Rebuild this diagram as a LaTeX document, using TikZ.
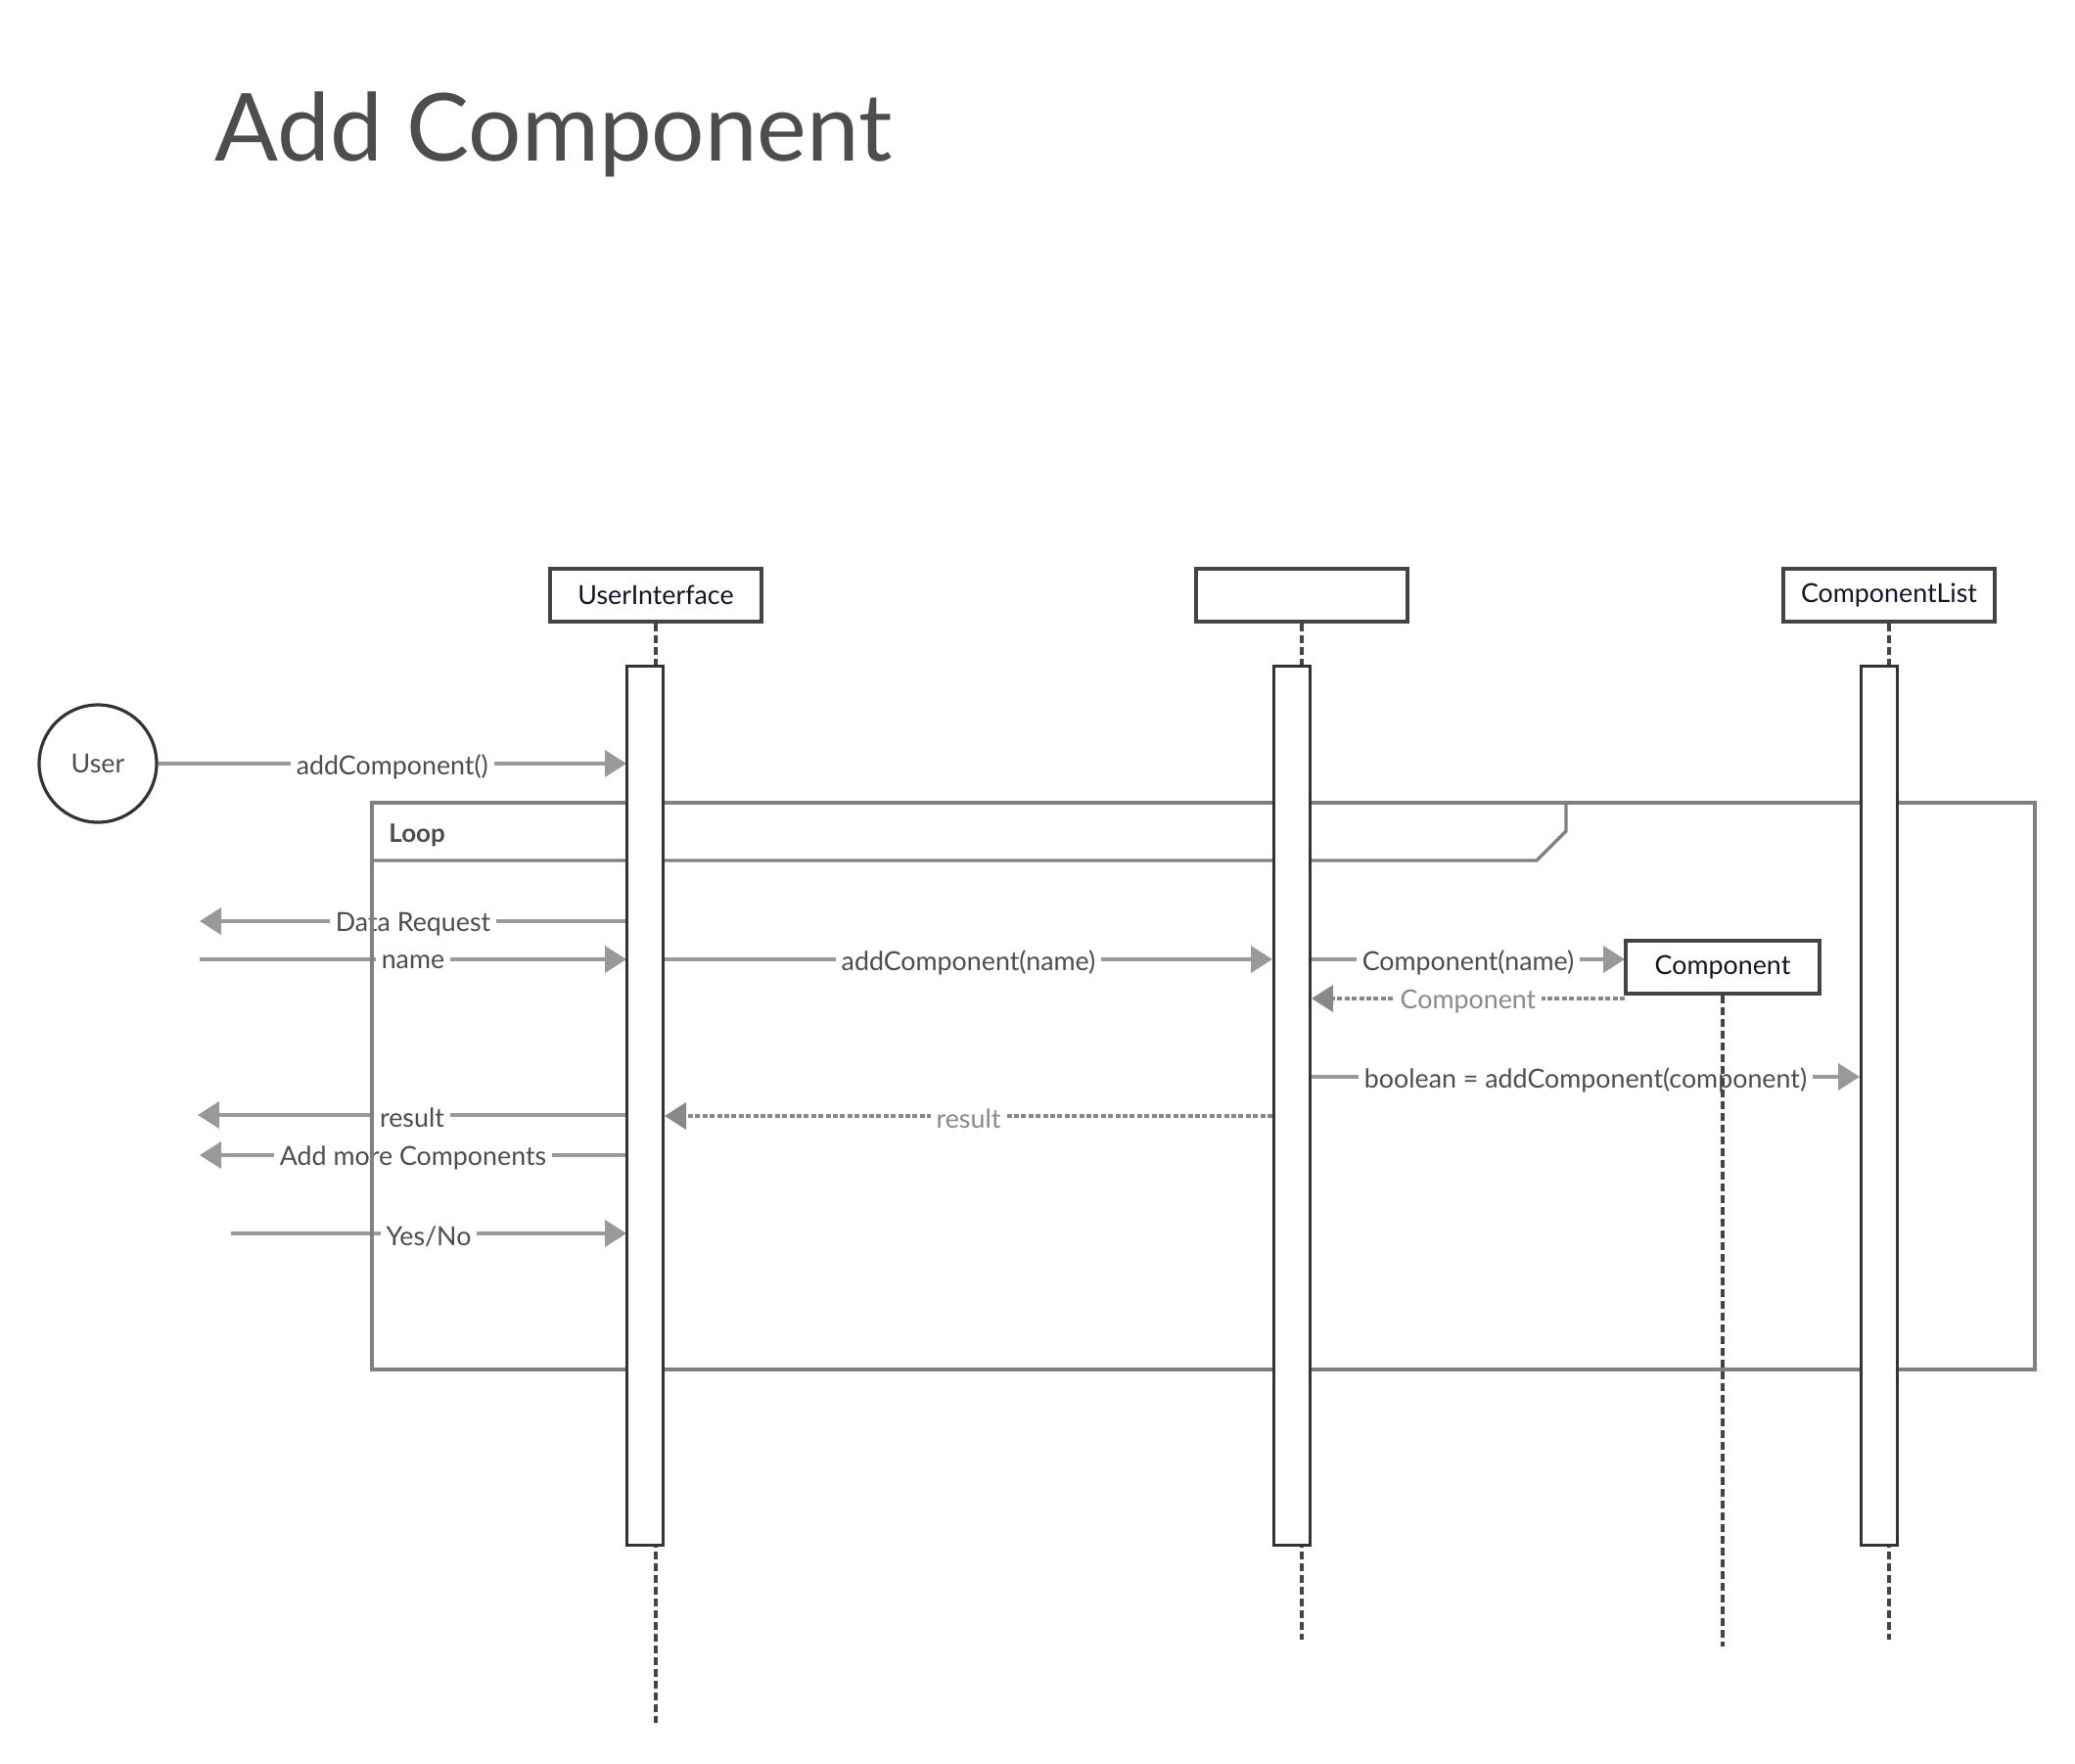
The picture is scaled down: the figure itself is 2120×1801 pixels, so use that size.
\documentclass[tikz,border=0pt]{standalone}
\usepackage{fontspec}
\setmainfont{Lato}
\usetikzlibrary{arrows.meta,positioning,calc}
\definecolor{ink}{HTML}{4D4D4D}
\definecolor{headtext}{HTML}{15152A}
\definecolor{boxline}{HTML}{444444}
\definecolor{actline}{HTML}{333333}
\definecolor{msggray}{HTML}{999999}
\definecolor{replygray}{HTML}{888888}
\definecolor{replytext}{HTML}{8A8A8A}
\definecolor{framegray}{HTML}{808080}

\begin{document}
\begin{tikzpicture}[
  x=0.5pt, y=-0.5pt,
  >={Triangle[length=11pt,width=13.5pt]},
  head/.style={rectangle, draw=boxline, line width=1.8pt, fill=white, minimum width=108pt, minimum height=27pt, inner sep=0pt, text=headtext, font=\fontsize{13.4}{15}\selectfont},
  act/.style={rectangle, draw=actline, line width=1.6pt, fill=white, minimum width=18.5pt, minimum height=449pt, inner sep=0pt, anchor=north},
  actor/.style={circle, draw=actline, line width=1.6pt, fill=white, minimum size=60pt, inner sep=0pt, text=ink, font=\fontsize{13.4}{15}\selectfont},
  life/.style={draw=boxline, line width=1.7pt, dash pattern=on 4pt off 2pt},
  msg/.style={->, draw=msggray, fill=msggray, line width=1.9pt},
  reply/.style={->, draw=replygray, fill=replygray, line width=1.8pt, dash pattern=on 2.5pt off 1.2pt},
  lbl/.style={fill=white, inner sep=3pt, yshift=-1.5pt, text=ink, font=\fontsize{13.4}{15}\selectfont},
  rlbl/.style={lbl, text=replytext}
]

  % Page
  \useasboundingbox[fill=white] (0,0) rectangle (2120,1801);
  \node[anchor=base west, text=ink, inner sep=0pt, font=\fontsize{48}{58}\selectfont] (title) at (219,164) {Add Component};

  % Free ends of the user's messages
  \coordinate (dreq) at (204,941);
  \coordinate (nm) at (204,980);
  \coordinate (res) at (202,1139);
  \coordinate (more) at (204,1180);
  \coordinate (yn) at (236,1260);

  % Lifeline ends
  \coordinate (uiend) at (670,1760);
  \coordinate (ctlend) at (1330,1675);
  \coordinate (cpend) at (1760,1682);
  \coordinate (clend) at (1930,1675);

  % Heads
  \node[head] (ui) at (670,608) {UserInterface};
  \node[head] (ctl) at (1330,608) {};
  \node[head] (cl) at (1930,608) {ComponentList};
  \node[actor] (user) at (100,780) {User};

  % Activations (only placed here, drawn later)
  \path (659,679) coordinate (uiacttop) (1320,679) coordinate (ctlacttop) (1920,679) coordinate (clacttop);

  % Messages
  \draw[msg] (user) -- node[lbl] {addComponent()} (user -| 640,0);
  \draw[msg] (640,941) -- node[lbl] {Data Request} (dreq);
  \draw[msg] (nm) -- node[lbl] {name} (640,980);
  \draw[msg] (679,980) -- node[lbl] {addComponent(name)} (1300,980);
  \draw[msg] (1340,980) -- node[lbl] {Component(name)} (1660,980);
  \draw[reply] (1660,1020) -- node[rlbl] {Component} (1340,1020);
  \draw[msg] (1340,1100) -- node[lbl] {boolean = addComponent(component)} (1900,1100);
  \draw[reply] (1300,1140) -- node[rlbl] {result} (679,1140);
  \draw[msg] (640,1139) -- node[lbl] {result} (res);
  \draw[msg] (640,1180) -- node[lbl] {Add more Components} (more);
  \draw[msg] (yn) -- node[lbl] {Yes/No} (640,1260);

  % Lifelines
  \draw[life] (ui.south) -- (uiend);
  \draw[life] (ctl.south) -- (ctlend);
  \draw[life] (cl.south) -- (clend);
  \node[head, minimum width=99pt] (comp) at (1760,988) {Component};
  \draw[life] (comp.south) -- (cpend);

  % Loop frame
  \draw[draw=framegray, line width=1.7pt] (380,820) rectangle (2079,1399);
  \draw[draw=framegray, line width=1.7pt] (380,879) -- (1570,879) -- (1600,849) -- (1600,820);
  \node[anchor=base west, inner sep=0pt, text=ink, font=\fontsize{13}{16}\selectfont\bfseries] (loop) at (397,860) {Loop};

  % Activations
  \node[act] (uiact) at (uiacttop) {};
  \node[act] (ctlact) at (ctlacttop) {};
  \node[act] (clact) at (clacttop) {};

\end{tikzpicture}
\end{document}
